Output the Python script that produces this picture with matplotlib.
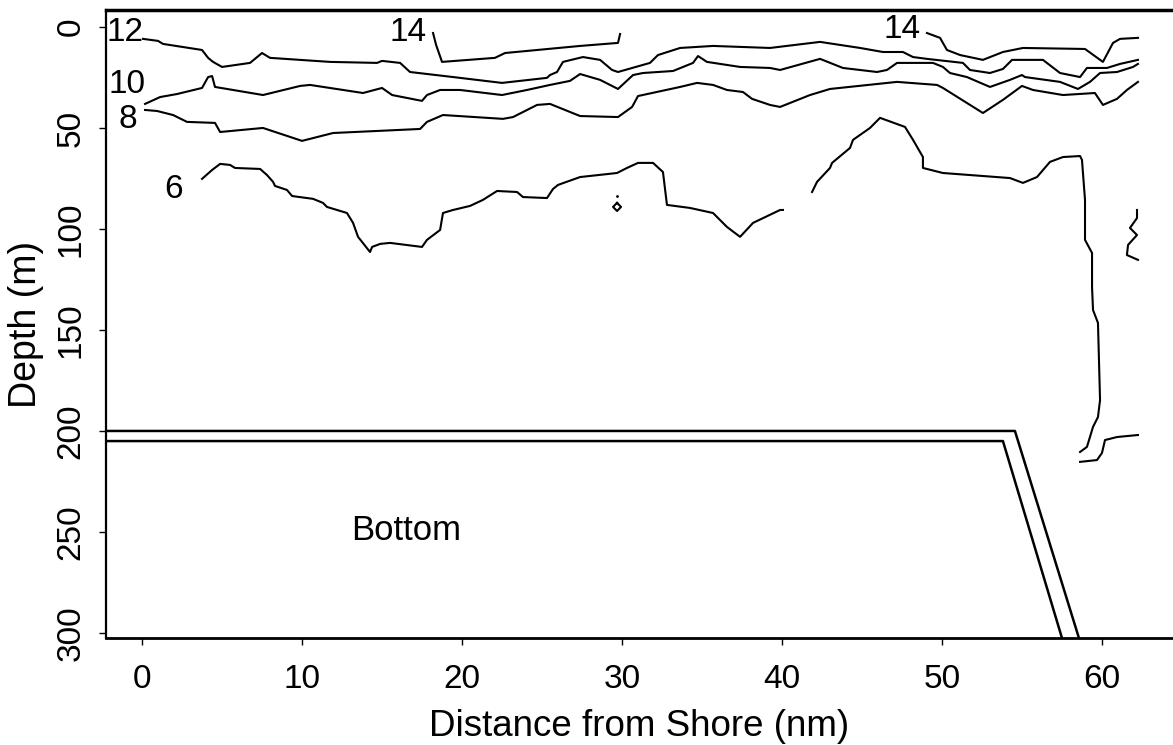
import matplotlib
matplotlib.use("Agg")
import matplotlib.pyplot as plt

plt.rcParams['font.family'] = ['Liberation Sans', 'DejaVu Sans']

# temperature contours (distance nm, depth m)
c12_x = [0.06, 1.0, 1.31, 3.75, 4.13, 4.44, 5.0, 6.75, 7.5, 8.0, 11.75, 14.69, 15.0, 16.13, 16.75, 19.44,
         22.5, 25.31, 25.5, 25.94, 26.31, 27.56, 28.63, 29.38, 29.75, 31.75, 32.25, 33.63, 35.69, 39.25,
         42.38, 44.88, 46.31, 47.56, 48.19, 49.06, 51.31, 51.75, 53.0, 53.81, 54.38, 56.31, 57.38, 58.63,
         59.06, 60.31, 61.13, 62.25]
c12_y = [5.9, 6.9, 8.4, 11.4, 15.3, 17.3, 19.8, 17.8, 12.9, 15.3, 17.3, 17.8, 16.8, 17.8, 22.3, 24.8,
         27.7, 25.2, 23.8, 22.3, 17.3, 14.9, 16.3, 21.3, 22.3, 17.8, 13.9, 10.4, 9.4, 10.4,
         7.4, 10.4, 12.4, 12.4, 14.9, 15.8, 17.8, 21.3, 22.8, 20.8, 16.3, 16.3, 22.8, 24.8,
         20.3, 20.3, 18.3, 16.3]

c10_x = [0.19, 1.13, 2.19, 3.75, 4.13, 4.38, 4.56, 5.69, 7.56, 9.88, 10.5, 13.81, 15.0, 15.63, 17.5,
         17.81, 18.63, 19.88, 22.5, 24.06, 25.5, 26.75, 27.38, 28.63, 29.75, 30.69, 31.31, 33.19, 34.44,
         34.75, 35.31, 37.38, 39.25, 39.88, 42.38, 43.81, 45.94, 46.56, 47.19, 49.44, 50.06, 50.5, 51.56,
         53.0, 54.25, 55.0, 55.19, 57.38, 58.5, 59.25, 59.88, 60.94, 61.94, 62.25]
c10_y = [38.1, 34.7, 33.2, 30.2, 24.8, 24.3, 29.7, 31.2, 33.7, 29.2, 28.7, 32.7, 30.2, 33.7, 36.6,
         33.7, 31.2, 31.2, 33.7, 31.2, 28.7, 26.7, 23.3, 26.2, 30.7, 23.8, 22.8, 21.8, 17.8,
         14.4, 17.3, 19.8, 20.3, 21.3, 15.8, 20.3, 22.3, 21.3, 17.8, 17.8, 19.8, 22.8, 24.8,
         29.7, 26.2, 23.8, 24.8, 27.2, 30.7, 27.2, 22.8, 22.3, 19.8, 18.3]

c8_x = [0.19, 0.94, 1.94, 2.81, 4.56, 4.88, 7.56, 10.0, 11.94, 17.38, 17.81, 18.81, 22.56, 23.19, 24.69,
        25.5, 27.38, 29.75, 30.63, 31.0, 33.63, 34.69, 35.69, 36.56, 37.56, 38.13, 39.25, 39.88, 41.75,
        43.0, 47.19, 49.69, 50.06, 52.56, 53.81, 55.0, 55.69, 57.56, 59.56, 60.06, 60.94, 61.56, 62.25]
c8_y = [41.1, 41.6, 43.6, 47.0, 47.5, 52.0, 50.0, 56.4, 52.5, 50.5, 47.0, 43.6, 45.5, 44.6, 38.6,
        38.1, 44.1, 44.6, 39.6, 34.2, 29.7, 27.7, 28.7, 31.2, 32.2, 35.6, 38.6, 39.6, 33.7,
        30.7, 27.2, 28.7, 30.2, 42.6, 36.1, 29.2, 31.2, 33.7, 32.7, 38.6, 35.6, 31.2, 27.2]

c14a_x = [18.19, 18.38, 18.75, 22.06, 22.69, 27.38, 29.75, 29.88]
c14a_y = [3.0, 8.9, 17.3, 15.3, 12.9, 9.4, 7.9, 3.5]
c14b_x = [49.06, 49.88, 50.31, 51.13, 52.56, 53.81, 55.06, 58.94, 60.06, 60.69, 61.13, 62.25]
c14b_y = [3.0, 5.4, 11.4, 13.9, 16.3, 12.4, 10.4, 10.9, 17.3, 7.9, 5.9, 5.4]

c6a_x = [3.75, 4.38, 4.88, 5.5, 5.81, 7.38, 7.81, 8.19, 8.31, 9.06, 9.38, 10.69, 11.31, 11.56, 12.81,
         13.19, 13.5, 14.25, 14.38, 14.88, 15.5, 17.5, 17.81, 18.63, 18.81, 19.44, 20.5, 21.31, 22.19,
         23.44, 23.81, 25.31, 25.69, 26.0, 27.38, 29.69, 30.31, 31.0, 31.94, 32.56, 32.81, 34.25, 35.69,
         36.56, 37.38, 38.19, 39.88, 40.06]
c6a_y = [75.2, 70.8, 67.8, 68.3, 69.8, 70.3, 73.3, 76.7, 78.7, 80.7, 83.7, 85.1, 87.1, 89.1, 92.1,
         97.0, 103.9, 111.4, 108.9, 107.4, 106.9, 108.9, 105.4, 100.5, 92.1, 90.6, 88.6, 85.6, 81.2,
         81.7, 84.2, 84.7, 80.2, 78.2, 74.3, 72.3, 69.8, 67.3, 67.3, 71.8, 88.1, 89.6, 92.1,
         99.0, 103.9, 97.0, 90.6, 90.6]
c6b_x = [41.88, 42.19, 43.0, 43.13, 44.25, 44.44, 45.5, 46.13, 47.69, 48.19, 48.81, 48.81, 50.06, 54.25,
         55.06, 55.94, 56.75, 57.56, 58.63, 58.75, 58.94, 58.94, 59.38, 59.38, 59.44, 59.75, 59.88, 59.75,
         59.44, 59.25, 59.06, 58.63]
c6b_y = [81.7, 76.7, 69.8, 67.3, 59.9, 55.9, 50.0, 45.0, 49.5, 55.9, 64.4, 69.8, 72.3, 74.8,
         77.2, 74.3, 66.8, 64.4, 63.9, 65.8, 85.6, 105.4, 111.9, 128.7, 140.1, 146.5, 184.7, 193.1,
         198.0, 203.0, 207.9, 210.4]
c6c_x = [58.63, 59.69, 60.0, 60.19, 60.94, 62.25]
c6c_y = [215.3, 214.4, 210.9, 204.5, 203.0, 202.0]
c6d_x = [62.19, 62.19, 61.75, 62.19, 61.63, 61.56, 62.25]
c6d_y = [90.6, 94.6, 99.5, 103.0, 107.9, 112.9, 115.3]
# small closed 6 degree contour
ring_x = [29.69, 29.94, 29.69, 29.44, 29.69]
ring_y = [87.1, 89.1, 91.1, 89.1, 87.1]

# shelf bottom outline (two lines)
bot1_x = [-2.5, 54.56, 58.56]
bot1_y = [200, 200, 302.5]
bot2_x = [-2.5, 53.81, 57.5]
bot2_y = [205, 205, 302.5]

# contour labels
lab_text = ["12", "10", "8", "6", "14", "14"]
lab_x = [-1.06, -0.94, -0.88, 2.0, 16.6, 47.5]
lab_y = [2.5, 28.7, 46.0, 80.7, 2.5, 1.5]

fig = plt.figure(figsize=(11.73, 7.45), dpi=100)
ax = fig.add_axes([0.0904, 0.1436, 0.9096, 0.8430])

lw = 1.5
for xs, ys in [(c12_x, c12_y), (c10_x, c10_y), (c8_x, c8_y), (c14a_x, c14a_y), (c14b_x, c14b_y),
               (c6a_x, c6a_y), (c6b_x, c6b_y), (c6c_x, c6c_y), (c6d_x, c6d_y), (ring_x, ring_y)]:
    ax.plot(xs, ys, color='black', lw=lw)
ax.plot([29.69], [83.7], 'k.', ms=2)

ax.plot(bot1_x, bot1_y, color='black', lw=1.8)
ax.plot(bot2_x, bot2_y, color='black', lw=1.8)

for t, x, y in zip(lab_text, lab_x, lab_y):
    ax.text(x, y, t, fontsize=24, ha='center', va='center')
ax.text(16.5, 249.5, "Bottom", fontsize=25, ha='center', va='center')

ax.set_xlim(-2.25, 64.44)
ax.set_ylim(302.5, -8.4)
ax.set_xticks([0, 10, 20, 30, 40, 50, 60])
ax.set_yticks([0, 50, 100, 150, 200, 250, 300])
ax.tick_params(axis='both', labelsize=24, length=5, width=1, direction='out')
ax.tick_params(axis='x', pad=14)
ax.tick_params(axis='y', pad=9, labelrotation=90)
for lbl in ax.get_yticklabels():
    lbl.set_va('center')

ax.spines['right'].set_visible(False)
ax.spines['top'].set_linewidth(2.5)
ax.spines['bottom'].set_linewidth(2.0)
ax.spines['left'].set_linewidth(1.6)

ax.set_xlabel("Distance from Shore (nm)", fontsize=26.5, labelpad=10)
ax.set_ylabel("Depth (m)", fontsize=27, labelpad=8)

fig.savefig("out.png", dpi=100)
